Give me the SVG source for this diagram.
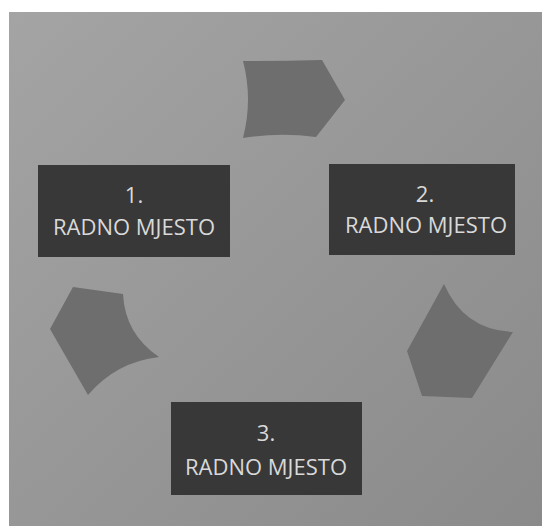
<svg xmlns="http://www.w3.org/2000/svg" width="542" height="526" viewBox="0 0 542 526">
  <defs>
    <linearGradient id="bg" x1="0" y1="0" x2="1" y2="1">
      <stop offset="0" stop-color="#a4a4a4"/>
      <stop offset="1" stop-color="#8a8a8a"/>
    </linearGradient>
    <style>
      .box { fill: #383838; }
      .arrow { fill: #6e6e6e; }
      .lbl { font-family: "Open Sans", "Liberation Sans", sans-serif; font-size: 22px; font-weight: 500; fill: #d9d9d9; text-anchor: middle; }
    </style>
  </defs>
  <rect x="0" y="0" width="542" height="526" fill="#ffffff"/>
  <rect x="9" y="12" width="533" height="514" fill="url(#bg)"/>

  <g id="connectors">
    <path id="arrow-1-2" class="arrow" d="M243,61 Q282,61 322,60 L345,100 L316,137 Q279,132 243,138 Q253,99 243,61 Z"/>
    <path id="arrow-2-3" class="arrow" d="M444,284 Q464,330 513,332 L472,398 L422,396 L407,351 Z"/>
    <path id="arrow-3-1" class="arrow" d="M73,287 L123,294 Q125,334 159,357 Q116,362 88,395 L50,329 Z"/>
  </g>

  <g id="node-1">
    <rect class="box" x="38" y="165" width="192" height="92"/>
    <text class="lbl" x="134" y="203">1.</text>
    <text class="lbl" x="134" y="235">RADNO MJESTO</text>
  </g>
  <g id="node-2">
    <rect class="box" x="329" y="164" width="186" height="91"/>
    <text class="lbl" x="425" y="202">2.</text>
    <text class="lbl" x="426" y="233">RADNO MJESTO</text>
  </g>
  <g id="node-3">
    <rect class="box" x="171" y="402" width="191" height="93"/>
    <text class="lbl" x="266" y="441">3.</text>
    <text class="lbl" x="266" y="475">RADNO MJESTO</text>
  </g>
</svg>
